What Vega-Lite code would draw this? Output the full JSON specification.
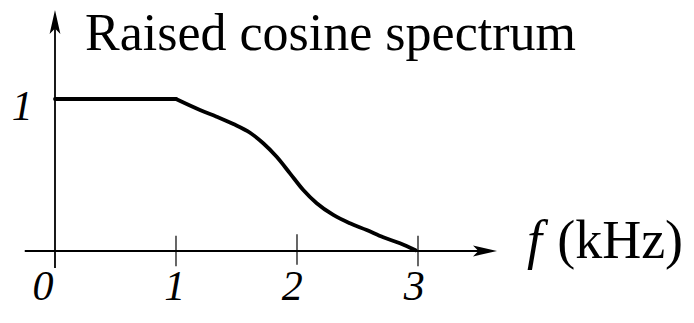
{
  "$schema": "https://vega.github.io/schema/vega-lite/v6.json",
  "width": 694,
  "height": 323,
  "autosize": "none",
  "padding": 0,
  "background": "white",
  "config": {"view": {"stroke": null}, "text": {"font": "'Times New Roman', 'Liberation Serif', Times, serif"}},
  "datasets": {
    "spectrum": [
      {"seg": "flat", "f": 0.0, "a": 1.0},
      {"seg": "flat", "f": 1.0, "a": 1.0},
      {"seg": "rolloff", "f": 1.0, "a": 1.0},
      {"seg": "rolloff", "f": 1.198, "a": 0.928},
      {"seg": "rolloff", "f": 1.336, "a": 0.884},
      {"seg": "rolloff", "f": 1.474, "a": 0.836},
      {"seg": "rolloff", "f": 1.612, "a": 0.778},
      {"seg": "rolloff", "f": 1.721, "a": 0.709},
      {"seg": "rolloff", "f": 1.832, "a": 0.62},
      {"seg": "rolloff", "f": 1.942, "a": 0.511},
      {"seg": "rolloff", "f": 2.052, "a": 0.401},
      {"seg": "rolloff", "f": 2.163, "a": 0.314},
      {"seg": "rolloff", "f": 2.3, "a": 0.237},
      {"seg": "rolloff", "f": 2.438, "a": 0.182},
      {"seg": "rolloff", "f": 2.576, "a": 0.138},
      {"seg": "rolloff", "f": 2.713, "a": 0.09},
      {"seg": "rolloff", "f": 2.851, "a": 0.051},
      {"seg": "rolloff", "f": 2.98, "a": 0.005}
    ],
    "axes": [
      {"x": -0.25, "x2": 3.52, "y": 0, "y2": 0},
      {"x": 0, "x2": 0, "y": -0.112, "y2": 1.5}
    ],
    "ticks": [
      {"x": 1, "y": 0.1, "y2": -0.1},
      {"x": 2, "y": 0.11, "y2": -0.09},
      {"x": 3, "y": 0.1, "y2": -0.1}
    ],
    "arrows": [
      {"x": 3.653, "y": 0, "dir": "right"},
      {"x": 0, "y": 1.586, "dir": "up"}
    ],
    "ticklabels": [
      {"x": -0.1, "y": -0.322, "label": "0"},
      {"x": 0.99, "y": -0.322, "label": "1"},
      {"x": 1.96, "y": -0.322, "label": "2"},
      {"x": 2.97, "y": -0.322, "label": "3"},
      {"x": -0.27, "y": 0.862, "label": "1"}
    ]
  },
  "encoding": {
    "x": {"type": "quantitative", "scale": {"domain": [-0.4545, 5.281], "nice": false, "zero": false}, "axis": null},
    "y": {"type": "quantitative", "scale": {"domain": [-0.4737, 1.6513], "nice": false, "zero": false}, "axis": null}
  },
  "layer": [
    {
      "data": {"name": "axes"},
      "mark": {"type": "rule", "color": "black", "strokeWidth": 1.8},
      "encoding": {
        "x": {"field": "x", "type": "quantitative"},
        "x2": {"field": "x2"},
        "y": {"field": "y", "type": "quantitative"},
        "y2": {"field": "y2"}
      }
    },
    {
      "data": {"name": "ticks"},
      "mark": {"type": "rule", "color": "black", "strokeWidth": 1.2},
      "encoding": {
        "x": {"field": "x", "type": "quantitative"},
        "y": {"field": "y", "type": "quantitative"},
        "y2": {"field": "y2"}
      }
    },
    {
      "data": {"name": "arrows"},
      "mark": {"type": "point", "filled": true, "color": "black", "opacity": 1, "size": 576},
      "encoding": {
        "x": {"field": "x", "type": "quantitative"},
        "y": {"field": "y", "type": "quantitative"},
        "shape": {
          "field": "dir",
          "type": "nominal",
          "scale": {
            "domain": ["right", "up"],
            "range": [
              "M0,0L-2,-0.45L-1.55,0L-2,0.45Z",
              "M0,0L-0.45,2L0,1.55L0.45,2Z"
            ]
          },
          "legend": null
        }
      }
    },
    {
      "data": {"name": "spectrum"},
      "mark": {"type": "line", "color": "black", "strokeWidth": 3.8, "strokeJoin": "round", "strokeCap": "round", "interpolate": "monotone"},
      "encoding": {
        "x": {"field": "f", "type": "quantitative"},
        "y": {"field": "a", "type": "quantitative"},
        "detail": {"field": "seg", "type": "nominal"}
      }
    },
    {
      "data": {"name": "ticklabels"},
      "mark": {"type": "text", "fontStyle": "italic", "fontSize": 42, "align": "center", "baseline": "alphabetic", "color": "black"},
      "encoding": {
        "x": {"field": "x", "type": "quantitative"},
        "y": {"field": "y", "type": "quantitative"},
        "text": {"field": "label"}
      }
    },
    {
      "data": {"values": [{"x": 0.248, "y": 1.322, "label": "Raised cosine spectrum"}]},
      "mark": {"type": "text", "fontSize": 52, "align": "left", "baseline": "alphabetic", "color": "black"},
      "encoding": {
        "x": {"field": "x", "type": "quantitative"},
        "y": {"field": "y", "type": "quantitative"},
        "text": {"field": "label"}
      }
    },
    {
      "data": {"values": [{"x": 3.9, "y": -0.045, "label": "f"}]},
      "mark": {"type": "text", "fontStyle": "italic", "fontSize": 54, "align": "left", "baseline": "alphabetic", "color": "black"},
      "encoding": {
        "x": {"field": "x", "type": "quantitative"},
        "y": {"field": "y", "type": "quantitative"},
        "text": {"field": "label"}
      }
    },
    {
      "data": {"values": [{"x": 4.15, "y": -0.045, "label": "(kHz)"}]},
      "mark": {"type": "text", "fontSize": 54, "align": "left", "baseline": "alphabetic", "color": "black"},
      "encoding": {
        "x": {"field": "x", "type": "quantitative"},
        "y": {"field": "y", "type": "quantitative"},
        "text": {"field": "label"}
      }
    }
  ]
}
